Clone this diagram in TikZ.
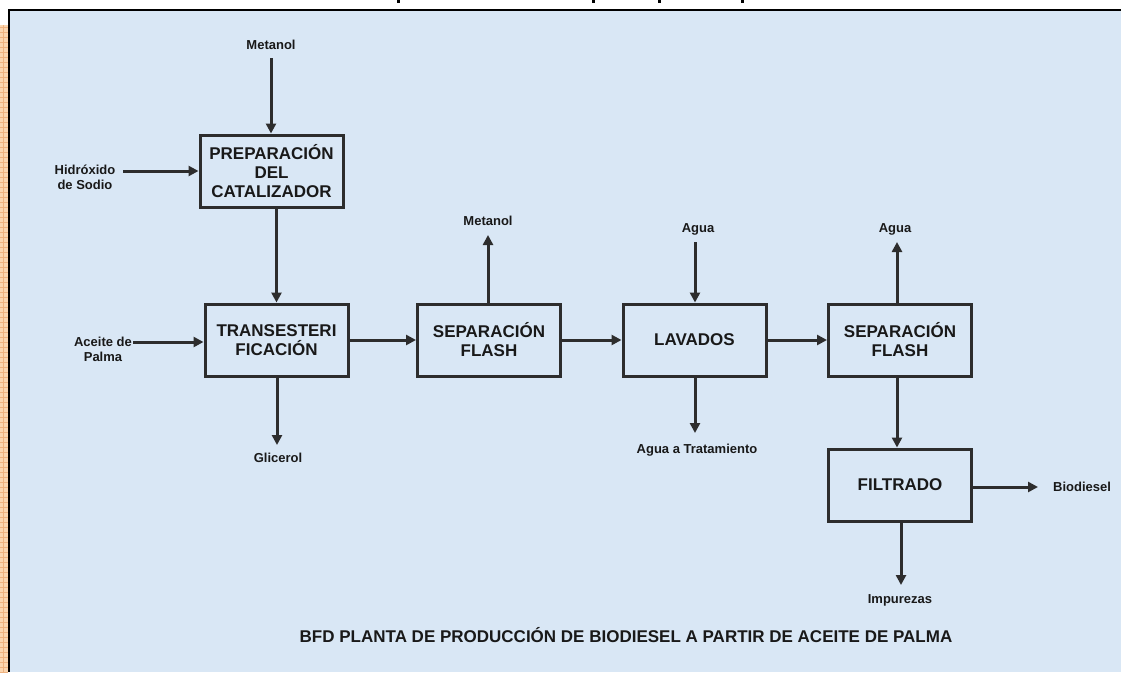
\documentclass[tikz,border=0pt]{standalone}
\usepackage{fontspec}
\setmainfont{Liberation Sans}
\usetikzlibrary{arrows.meta}
\definecolor{bgblue}{RGB}{217,231,245}
\definecolor{orng}{RGB}{251,214,176}
\definecolor{orngline}{RGB}{238,178,128}
\definecolor{ink}{RGB}{45,45,45}
\definecolor{txt}{RGB}{25,25,25}
\begin{document}
\begin{tikzpicture}[x=1pt,y=-1pt,
  proc/.style={draw=ink,line width=3pt,minimum width=143pt,minimum height=72pt,inner sep=0pt,align=center,
    font=\fontsize{17}{19}\selectfont\bfseries,text=txt},
  lbl/.style={font=\fontsize{13}{15}\selectfont\bfseries,text=txt,align=center,inner sep=0pt},
  arr/.style={draw=ink,line width=3pt,-{Triangle[length=10pt,width=10pt]}},
]
\useasboundingbox (0,0) rectangle (1121,672);
% background
\fill[white] (0,0) rectangle (1121,672);
\fill[bgblue] (9,10) rectangle (1121,672);
\fill[orng] (0,25) rectangle (8,672);
\foreach \yy in {27,32,...,672} {\draw[orngline,line width=0.5pt] (0,\yy) -- (8,\yy);}
\draw[orngline,line width=0.5pt] (3,25) -- (3,672);
\draw[black,line width=2pt] (8,10) -- (1121,10);
\draw[black,line width=2pt] (9,10) -- (9,672);
% cut-off fragments at top
\fill[black] (397,0) rectangle (400,3);
\fill[black] (592,0) rectangle (595,3);
\fill[black] (658,0) rectangle (661,3);
\fill[black] (741,0) rectangle (744,3);

% process boxes
\node[proc] (prep) at (271.5,171) {PREPARACIÓN\\DEL\\CATALIZADOR};
\node[proc] (trans) at (276.5,340) {TRANSESTERI\\FICACIÓN};
\node[proc] (sep1) at (489,340) {SEPARACIÓN\\FLASH};
\node[proc] (lav) at (694.5,340) {LAVADOS};
\node[proc] (sep2) at (900,340) {SEPARACIÓN\\FLASH};
\node[proc] (filt) at (900,485) {FILTRADO};

% labels
\node[lbl] (lmet1) at (271,45) {Metanol};
\node[lbl] (lhid) at (85,177) {Hidróxido\\de Sodio};
\node[lbl] (lace) at (103,349.5) {Aceite de\\Palma};
\node[lbl] (lgli) at (278,458) {Glicerol};
\node[lbl] (lmet2) at (488,221) {Metanol};
\node[lbl] (lag1) at (698,229) {Agua};
\node[lbl] (latr) at (697,450) {Agua a Tratamiento};
\node[lbl] (lag2) at (895,229) {Agua};
\node[lbl] (lbio) at (1082,487) {Biodiesel};
\node[lbl] (limp) at (900,600) {Impurezas};
\node[font=\fontsize{17}{20}\selectfont\bfseries,text=txt,inner sep=0pt] (cap) at (626,635)
  {BFD PLANTA DE PRODUCCIÓN DE BIODIESEL A PARTIR DE ACEITE DE PALMA};

% connectors
\coordinate (m1s) at (271,58);
\draw[arr] (m1s) -- (m1s |- prep.north);
\coordinate (hs) at (123,171);
\draw[arr] (hs) -- (prep.west);
\draw[arr] (prep.south -| trans.north) -- (trans.north);
\coordinate (as) at (133,342);
\draw[arr] (as) -- (as -| trans.west);
\coordinate (ge) at (277,445);
\draw[arr] (ge |- trans.south) -- (ge);
\draw[arr] (trans) -- (sep1);
\coordinate (m2e) at (488,235);
\draw[arr] (m2e |- sep1.north) -- (m2e);
\draw[arr] (sep1) -- (lav);
\coordinate (a1s) at (695,242);
\draw[arr] (a1s) -- (a1s |- lav.north);
\coordinate (te) at (695,433);
\draw[arr] (te |- lav.south) -- (te);
\draw[arr] (lav) -- (sep2);
\coordinate (a2e) at (897,242);
\draw[arr] (a2e |- sep2.north) -- (a2e);
\draw[arr] (sep2.south -| a2e) -- (filt.north -| a2e);
\coordinate (be) at (1038,487);
\draw[arr] (be -| filt.east) -- (be);
\coordinate (ie) at (901,585);
\draw[arr] (ie |- filt.south) -- (ie);
\end{tikzpicture}
\end{document}
